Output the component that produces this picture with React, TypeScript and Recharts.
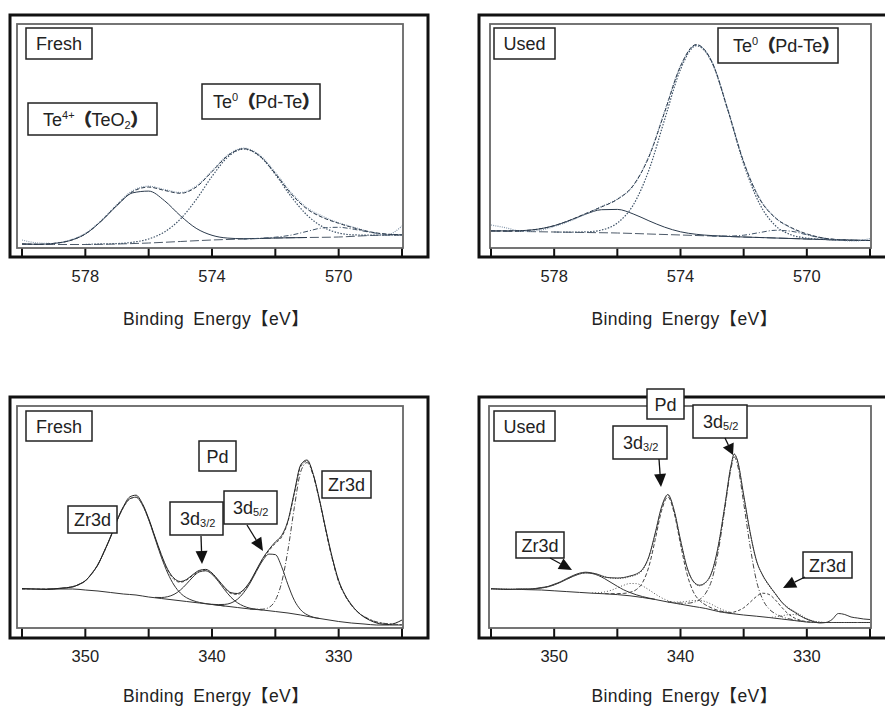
import React from "react";
import { LineChart, Line, XAxis, YAxis } from "recharts";

type Pt = [number, number];

const FONT = '"Liberation Sans", Arial, "Noto Sans CJK SC", sans-serif';
const CJK = '"Noto Sans CJK SC", sans-serif';
const AXIS_TITLE = "Binding\u2002Energy【eV】";

// tick marks and labelled ticks (eV)
const teTicks = [580, 578, 576, 574, 572, 570, 568];
const teLabels = [578, 574, 570];
const pdTicks = [355, 350, 345, 340, 335, 330, 325];
const pdLabels = [350, 340, 330];

// ---- Te 3d, fresh ----
const freshTeBg: Pt[] = [[580, 4], [579, 3.5], [578, 3.5], [577, 4], [576, 5], [575, 6.5], [574, 8], [573, 9], [572, 10], [571, 10.5], [570, 11], [569, 12.5], [568, 13]];
const freshTe4: Pt[] = [[580, 4.0], [579.5, 3.7], [579, 4.6], [578.5, 7.3], [578, 14.0], [577.5, 26.8], [577, 42.5], [576.5, 55.2], [576, 56.9], [575.5, 47.3], [575, 32.3], [574.5, 19.7], [574, 12.7], [573.5, 9.9], [573, 9.3], [572.5, 9.5], [572, 10.0], [571, 10.5]];
const freshTe0: Pt[] = [[578, 3.5], [577.5, 4.1], [577, 4.4], [576.5, 5.8], [576, 9.0], [575.5, 16.1], [575, 28.9], [574.5, 48.4], [574, 71.6], [573.5, 91.0], [573, 99.0], [572.5, 92.0], [572, 73.6], [571.5, 51.4], [571, 32.9], [570.5, 21.1], [570, 15.0], [569.5, 13.1], [569, 12.9], [568.5, 12.9], [568, 13.0]];
const freshTeSmall: Pt[] = [[573, 9.0], [572.5, 9.7], [572, 10.8], [571.5, 12.9], [571, 16.6], [570.5, 20.1], [570, 20.7], [569.5, 18.6], [569, 15.7], [568.5, 13.8], [568, 13.2]];
const freshTeFit: Pt[] = [[580, 4.0], [579.5, 3.7], [579, 4.6], [578.5, 7.3], [578, 14.0], [577.5, 26.9], [577, 42.9], [576.5, 56.5], [576, 60.9], [575.5, 57.6], [575, 54.7], [574.5, 60.9], [574, 76.3], [573.5, 92.4], [573, 99.3], [572.5, 92.2], [572, 74.4], [571.5, 54.1], [571, 39.0], [570.5, 30.4], [570, 24.7], [569.5, 19.9], [569, 16.1], [568.5, 13.9], [568, 13.2]];
const freshTeRaw: Pt[] = [[580, 8.0], [579.5, 5.0], [579, 4.5], [578.5, 7.8], [578, 14.6], [577.5, 27.5], [577, 43.6], [576.5, 57.5], [576, 61.8], [575.5, 58.4], [575, 55.5], [574.5, 61.8], [574, 77.0], [573.5, 93.0], [573, 99.8], [572.5, 93.0], [572, 75.5], [571.5, 55.4], [571, 40.2], [570.5, 31.6], [570, 25.2], [569.5, 20.5], [569, 16.0], [568.5, 13.0], [568, 22.0]];

// ---- Te 3d, used ----
const usedTeBg: Pt[] = [[580, 17], [579, 16.5], [578, 16], [577, 15.5], [576, 15], [575, 14], [574, 13], [573, 12], [572, 11], [571, 10], [570, 9], [569, 8], [568, 7.5]];
const usedTe4: Pt[] = [[580, 17.1], [579.5, 17.1], [579, 17.4], [578.5, 18.9], [578, 22.3], [577.5, 27.7], [577, 33.9], [576.5, 38.3], [576, 38.6], [575.5, 34.1], [575, 27.2], [574.5, 20.8], [574, 16.2], [573.5, 13.7], [573, 12.4], [572.5, 11.6], [572, 11.0], [571, 10.0], [570, 9.0], [569, 8.0], [568, 7.5]];
const usedTe0: Pt[] = [[578, 16], [577.5, 15.9], [577, 16.1], [576.5, 18.0], [576, 25.0], [575.5, 42.8], [575, 77.9], [574.5, 128.7], [574, 178.6], [573.5, 202.3], [573, 185.3], [572.5, 137.7], [572, 84.2], [571.5, 44.4], [571, 22.5], [570.5, 13.2], [570, 9.9], [569.5, 8.7], [569, 8.0], [568.5, 7.7], [568, 7.5]];
const usedTeSmall: Pt[] = [[573, 12.0], [572.5, 11.9], [572, 12.8], [571.5, 15.4], [571, 17.7], [570.5, 16.8], [570, 13.2], [569.5, 9.9], [569, 8.3], [568.5, 7.7], [568, 7.5]];
const usedTeFit: Pt[] = [[580, 17.1], [579.5, 17.1], [579, 17.4], [578.5, 18.9], [578, 22.3], [577.5, 27.8], [577, 34.5], [576.5, 41.1], [576, 48.6], [575.5, 62.4], [575, 91.1], [574.5, 136.0], [574, 181.8], [573.5, 203.5], [573, 185.7], [572.5, 137.9], [572, 86.0], [571.5, 49.3], [571, 30.2], [570.5, 20.5], [570, 14.1], [569.5, 10.1], [569, 8.3], [568.5, 7.7], [568, 7.5]];
const usedTeRaw: Pt[] = [[580, 23.0], [579.5, 20.0], [579, 16.5], [578.5, 17.5], [578, 21.5], [577.5, 27.0], [577, 34.0], [576.5, 41.5], [576, 49.0], [575.5, 62.0], [575, 92.0], [574.5, 137.0], [574, 182.0], [573.5, 203.0], [573, 186.0], [572.5, 138.5], [572, 86.5], [571.5, 50.0], [571, 30.5], [570.5, 20.0], [570, 13.5], [569.5, 10.0], [569, 8.0], [568.5, 7.0], [568, 9.5]];

// ---- Pd 3d / Zr 3d, fresh ----
const freshPdBg: Pt[] = [[355, 39], [354, 39], [353, 39], [352, 39], [351, 39], [350, 38], [349, 37], [348, 35.5], [347, 34], [346, 33], [345, 31], [344, 29.5], [343, 28], [342, 26.5], [341, 25], [340, 23.5], [339, 22], [338, 20.5], [337, 19], [336, 18], [335, 16.5], [334, 15], [333, 13], [332, 10.5], [331, 8.5], [330, 6.5], [329, 5], [328, 4], [327, 3], [326, 3], [325, 3]];
const freshZrHigh: Pt[] = [[353, 39.0], [352, 39.5], [351.5, 40.1], [351, 41.4], [350.5, 43.4], [350, 47.4], [349.5, 54.0], [349, 63.8], [348.5, 76.5], [348, 91.6], [347.5, 107.2], [347, 120.5], [346.5, 129.1], [346, 130.8], [345.5, 123.3], [345, 108.4], [344.5, 89.6], [344, 70.9], [343.5, 55.0], [343, 43.0], [342.5, 35.0], [342, 30.2], [341.5, 27.4], [341, 25.6], [340.5, 24.4], [340, 23.6], [339, 22.0]];
const freshPd32: Pt[] = [[344.5, 30.6], [344, 30.5], [343.5, 31.3], [343, 33.6], [342.5, 37.9], [342, 44.2], [341.5, 51.1], [341, 56.1], [340.5, 57.2], [340, 53.7], [339.5, 46.6], [339, 38.2], [338.5, 30.7], [338, 25.3], [337.5, 21.9], [337, 19.8], [336.5, 18.8], [336, 18.0]];
const freshPd52: Pt[] = [[340, 23.7], [339.5, 23.4], [339, 23.6], [338.5, 25.0], [338, 28.7], [337.5, 35.3], [337, 44.8], [336.5, 56.5], [336, 67.4], [335.5, 73.9], [335, 73.4], [334.5, 61.2], [334, 43.2], [333.5, 27.7], [333, 18.2], [332.5, 13.3], [332, 10.8], [331.5, 9.5]];
const freshZrLow: Pt[] = [[337, 19.0], [336.5, 18.7], [336, 18.8], [335.5, 20.6], [335, 27.7], [334.5, 45.6], [334, 78.2], [333.5, 120.6], [333, 156.2], [332.5, 165.4], [332, 152.3], [331.5, 126.5], [331, 96.5], [330.5, 69.0], [330, 46.4], [329.5, 32.6], [329, 22.8], [328.5, 16.1], [328, 11.5], [327.5, 8.3], [327, 6.0], [326.5, 4.8], [326, 4.0], [325.5, 3.6], [325, 3.3]];
const freshPdFit: Pt[] = [[355, 39], [354, 39], [353, 39], [352.5, 39.2], [352, 39.5], [351.5, 40.1], [351, 41.4], [350.5, 43.4], [350, 47.4], [349.5, 54.0], [349, 63.8], [348.5, 76.5], [348, 91.6], [347.5, 107.2], [347, 120.5], [346.5, 129.1], [346, 130.8], [345.5, 123.3], [345, 108.4], [344.5, 90.0], [344, 71.9], [343.5, 57.5], [343, 48.6], [342.5, 45.7], [342, 47.9], [341.5, 52.7], [341, 56.7], [340.5, 57.5], [340, 54.0], [339.5, 47.2], [339, 39.8], [338.5, 34.5], [338, 33.5], [337.5, 37.4], [337, 45.6], [336.5, 57.0], [336, 68.2], [335.5, 77.3], [335, 84.6], [334.5, 91.0], [334, 106.4], [333.5, 134.3], [333, 161.4], [332.5, 166.9], [332, 152.6], [331.5, 126.5], [331, 96.5], [330.5, 69.0], [330, 46.4], [329.5, 32.6], [329, 22.8], [328.5, 16.1], [328, 11.5], [327.5, 8.3], [327, 6.0], [326.5, 4.8], [326, 4.0], [325.5, 3.6], [325, 3.3]];
const freshPdRaw: Pt[] = [[355, 39.5], [354, 39], [353, 38.5], [352, 39.8], [351, 41], [350.5, 43.8], [350, 47], [349.5, 54.6], [349, 63.2], [348.5, 77.2], [348, 91], [347.5, 107.8], [347, 121.3], [346.5, 131.0], [346, 132.8], [345.5, 124.5], [345, 109.5], [344.5, 91.2], [344, 73.5], [343.5, 58.6], [343, 49.8], [342.5, 46.5], [342, 48.6], [341.5, 53.5], [341, 57.6], [340.5, 58.6], [340, 55.0], [339.5, 48.0], [339, 40.6], [338.5, 35.3], [338, 34.5], [337.5, 38.4], [337, 46.5], [336.5, 58.0], [336, 69.5], [335.5, 78.5], [335, 86.0], [334.5, 92.5], [334, 107.5], [333.5, 135.8], [333, 163.0], [332.5, 168.0], [332, 153.5], [331.5, 127.5], [331, 97.8], [330.5, 70.2], [330, 47.5], [329.5, 33.2], [329, 23.5], [328.5, 16.0], [328, 11.0], [327.5, 7.5], [327, 5.0], [326.5, 3.8], [326, 3.5], [325.5, 5.0], [325, 8.0]];

// ---- Pd 3d / Zr 3d, used ----
const usedPdBg: Pt[] = [[355, 39], [354, 39], [353, 38.7], [352, 38.3], [351, 38], [350, 37.2], [349, 36.4], [348, 35.6], [347, 34.8], [346, 34.2], [345, 33.4], [344, 32.2], [343, 30.5], [342, 28.5], [341, 26], [340, 23.8], [339, 21.6], [338, 19.5], [337, 16.5], [336, 14.5], [335, 13], [334, 11.8], [333, 10.5], [332, 9], [331, 7.5], [330, 6], [329, 5.5], [328, 5.5], [327, 5.5], [326, 5.5], [325, 5.5]];
const usedZrHigh: Pt[] = [[353, 38.8], [352.5, 38.8], [352, 38.8], [351.5, 39.2], [351, 40.0], [350.5, 41.2], [350, 43.1], [349.5, 45.7], [349, 48.8], [348.5, 51.7], [348, 54.0], [347.5, 55.1], [347, 54.5], [346.5, 52.5], [346, 49.3], [345.5, 45.5], [345, 41.7], [344.5, 38.2], [344, 35.5], [343.5, 33.2], [343, 31.4], [342.5, 29.9], [342, 28.7]];
const usedShoulder343: Pt[] = [[347, 35.1], [346.5, 35.3], [346, 36.1], [345.5, 37.7], [345, 40.2], [344.5, 42.7], [344, 44.5], [343.5, 44.4], [343, 42.0], [342.5, 38.2], [342, 34.0], [341.5, 30.2], [341, 27.4], [340.5, 25.4], [340, 24.0]];
const usedPd32: Pt[] = [[346, 34.4], [345.5, 34.3], [345, 34.4], [344.5, 34.6], [344, 35.7], [343.5, 38.4], [343, 45.5], [342.5, 61.5], [342, 88.5], [341.5, 117.2], [341, 131.0], [340.5, 114.9], [340, 83.8], [339.5, 54.7], [339, 36.6], [338.5, 27.6], [338, 23.0], [337.5, 19.8], [337, 17.5], [336.5, 16.0], [336, 14.7]];
const usedShoulder338: Pt[] = [[341, 26.0], [340.5, 25.9], [340, 26.0], [339.5, 26.6], [339, 27.4], [338.5, 27.5], [338, 26.3], [337.5, 23.4], [337, 20.1], [336.5, 17.4], [336, 15.3], [335.5, 14.1]];
const usedPd52: Pt[] = [[341, 26.3], [340.5, 25.4], [340, 24.9], [339.5, 24.8], [339, 25.6], [338.5, 28.3], [338, 34.9], [337.5, 49.0], [337, 77.5], [336.5, 118.5], [336, 159.5], [335.75, 171.1], [335.5, 163.8], [335, 125.0], [334.5, 82.4], [334, 47.8], [333.5, 28.8], [333, 19.2], [332.5, 14.3], [332, 11.4], [331.5, 9.4], [331, 8.1], [330.5, 7.1], [330, 6.0]];
const usedZrLow: Pt[] = [[337, 16.5], [336.5, 15.8], [336, 15.6], [335.5, 17.0], [335, 20.2], [334.5, 25.6], [334, 31.4], [333.5, 34.8], [333, 33.6], [332.5, 28.2], [332, 20.9], [331.5, 14.4], [331, 10.2], [330.5, 7.7], [330, 6.3], [329.5, 5.7]];
const usedShoulder331: Pt[] = [[333, 10.5], [332.5, 11.1], [332, 12.1], [331.5, 13.3], [331, 13.5], [330.5, 11.9], [330, 9.1], [329.5, 7.0], [329, 5.9], [328.5, 5.5]];
const usedPdFit: Pt[] = [[355, 39.0], [354.5, 39.0], [354, 39.0], [353.5, 38.8], [353, 38.8], [352.5, 38.8], [352, 38.8], [351.5, 39.2], [351, 40.0], [350.5, 41.2], [350, 43.1], [349.5, 45.7], [349, 48.8], [348.5, 51.7], [348, 54.0], [347.5, 55.1], [347, 54.8], [346.5, 53.3], [346, 51.4], [345.5, 49.9], [345, 49.5], [344.5, 49.9], [344, 51.3], [343.5, 53.2], [343, 57.9], [342.5, 70.6], [342, 94.2], [341.5, 120.2], [341, 132.7], [340.5, 116.9], [340, 87.3], [339.5, 60.7], [339, 46.4], [338.5, 42.2], [338, 45.2], [337.5, 56.2], [337, 82.1], [336.5, 120.9], [336, 161.6], [335.75, 173.6], [335.5, 167.3], [335, 132.2], [334.5, 95.6], [334, 67.4], [333.5, 52.4], [333, 42.3], [332.5, 34.0], [332, 26.4], [331.5, 20.7], [331, 16.8], [330.5, 13.1], [330, 9.4], [329.5, 7.0], [329, 5.9], [328.5, 5.5], [328, 5.5], [327, 5.5], [326, 5.5], [325, 5.5]];
const usedPdRaw: Pt[] = [[355, 39.5], [354.5, 39], [354, 38.5], [353.5, 38.5], [353, 38.8], [352.5, 39], [352, 39], [351.5, 39.5], [351, 40.5], [350.5, 41.5], [350, 43.8], [349.5, 46.2], [349, 49.5], [348.5, 52.5], [348, 54.8], [347.5, 55.8], [347, 55.0], [346.5, 53.5], [346, 51.0], [345.5, 50.2], [345, 50.0], [344.5, 50.5], [344, 52.0], [343.5, 54.0], [343, 58.8], [342.5, 71.5], [342, 95.0], [341.5, 121.0], [341, 133.5], [340.5, 117.5], [340, 88.0], [339.5, 61.5], [339, 47.0], [338.5, 42.8], [338, 45.8], [337.5, 56.8], [337, 82.8], [336.5, 121.5], [336, 162.5], [335.75, 174.0], [335.5, 168.0], [335, 133.0], [334.5, 96.5], [334, 68.0], [333.5, 53.0], [333, 43.0], [332.5, 34.5], [332, 26.0], [331.5, 20.0], [331, 16.0], [330.5, 12.0], [330, 8.8], [329.5, 6.5], [329, 5.0], [328.5, 5.5], [328, 8.5], [327.5, 14.5], [327, 13.5], [326.5, 11.0], [326, 10.0], [325.5, 9.0], [325, 8.5]];

type Series = { points: Pt[]; stroke: string; width?: number; dash?: string };

const TE_DARK = "#2b3a4c";
const TE_MID = "#3f5368";
const TE_LIGHT = "#8497ab";

const teStyles = (bg: Pt[], te4: Pt[], te0: Pt[], small: Pt[], fit: Pt[], raw: Pt[]): Series[] => [
  { points: bg, stroke: "#4d5a69", dash: "9 3" },
  { points: te4, stroke: TE_DARK },
  { points: te0, stroke: TE_MID, dash: "1.5 1.5", width: 1.2 },
  { points: small, stroke: TE_MID, dash: "5 2 1 2" },
  { points: raw, stroke: TE_LIGHT, dash: "1 1.2", width: 1.2 },
  { points: fit, stroke: TE_DARK, dash: "4 2" },
];

const freshTeSeries = teStyles(freshTeBg, freshTe4, freshTe0, freshTeSmall, freshTeFit, freshTeRaw);
const usedTeSeries = teStyles(usedTeBg, usedTe4, usedTe0, usedTeSmall, usedTeFit, usedTeRaw);

const freshPdSeries: Series[] = [
  { points: freshPdBg, stroke: "#333" },
  { points: freshZrHigh, stroke: "#333" },
  { points: freshPd32, stroke: "#333" },
  { points: freshPd52, stroke: "#333" },
  { points: freshZrLow, stroke: "#444", dash: "5 2 1 2" },
  { points: freshPdFit, stroke: "#555", dash: "3 2" },
  { points: freshPdRaw, stroke: "#222" },
];

const usedPdSeries: Series[] = [
  { points: usedPdBg, stroke: "#333" },
  { points: usedZrHigh, stroke: "#333" },
  { points: usedShoulder343, stroke: "#555", dash: "1 2" },
  { points: usedPd32, stroke: "#444", dash: "4 2" },
  { points: usedShoulder338, stroke: "#555", dash: "1 2" },
  { points: usedPd52, stroke: "#444", dash: "5 2 1 2" },
  { points: usedZrLow, stroke: "#444", dash: "3 2" },
  { points: usedShoulder331, stroke: "#555", dash: "1 2" },
  { points: usedPdFit, stroke: "#555", dash: "1 1.5" },
  { points: usedPdRaw, stroke: "#333" },
];

type PanelProps = {
  left: number;
  top: number;
  width: number;
  height: number;
  margin: { top: number; right: number; bottom: number; left: number };
  domain: [number, number];
  ticks: number[];
  labels: number[];
  yMax: number;
  axisHeight: number;
  tickSize: number;
  tickMargin: number;
  series: Series[];
};

function Panel(p: PanelProps) {
  return (
    <div style={{ position: "absolute", left: p.left, top: p.top }}>
      <LineChart width={p.width} height={p.height} margin={p.margin}>
        <XAxis
          type="number"
          dataKey="x"
          domain={p.domain}
          reversed
          allowDataOverflow
          ticks={p.ticks}
          interval={0}
          tickFormatter={(v: number) => (p.labels.includes(v) ? String(v) : "")}
          axisLine={false}
          tickLine={{ stroke: "#111", strokeWidth: 2 }}
          tickSize={p.tickSize}
          tickMargin={p.tickMargin}
          tick={{ fontSize: 16.5, fill: "#222", fontFamily: FONT }}
          height={p.axisHeight}
          label={{
            value: AXIS_TITLE,
            position: "insideBottom",
            offset: 0,
            fontSize: 17.5,
            letterSpacing: 0.4,
            fill: "#222",
            fontFamily: FONT,
            dx: 4,
          }}
        />
        <YAxis hide type="number" domain={[0, p.yMax]} allowDataOverflow />
        {p.series.map((s, i) => (
          <Line
            key={i}
            data={s.points.map(([x, y]) => ({ x, y }))}
            dataKey="y"
            type="monotone"
            dot={false}
            activeDot={false}
            stroke={s.stroke}
            strokeWidth={s.width ?? 1}
            strokeDasharray={s.dash}
            isAnimationActive={false}
          />
        ))}
      </LineChart>
    </div>
  );
}

function Box({ x, y, w, h }: { x: number; y: number; w: number; h: number }) {
  return <rect x={x} y={y} width={w} height={h} fill="#fff" stroke="#222" strokeWidth={1.5} />;
}

function Arrow({ x1, y1, x2, y2, len = 13 }: { x1: number; y1: number; x2: number; y2: number; len?: number }) {
  const a = Math.atan2(y2 - y1, x2 - x1);
  const bx = x2 - len * Math.cos(a);
  const by = y2 - len * Math.sin(a);
  const px = -Math.sin(a) * 6;
  const py = Math.cos(a) * 6;
  return (
    <g>
      <line x1={x1} y1={y1} x2={bx} y2={by} stroke="#111" strokeWidth={1.3} />
      <polygon points={`${x2},${y2} ${bx + px},${by + py} ${bx - px},${by - py}`} fill="#111" />
    </g>
  );
}

const txt = { fontSize: 18, fontFamily: FONT, fill: "#222" };
const paren = { fontFamily: CJK, fontSize: 17, fontWeight: 700, stroke: "#222", strokeWidth: 0.9 };

function Te0Label({ x, y }: { x: number; y: number }) {
  return (
    <text x={x} y={y} {...txt}>
      <tspan>Te</tspan>
      <tspan fontSize={11} dy={-7}>0</tspan>
      <tspan {...paren} dy={7}>（</tspan>
      <tspan>Pd-Te</tspan>
      <tspan {...paren}>）</tspan>
    </text>
  );
}

function Sub({ x, y, n }: { x: number; y: number; n: string }) {
  return (
    <text x={x} y={y} {...txt}>
      <tspan>3d</tspan>
      <tspan fontSize={11} dy={2}>{n}</tspan>
    </text>
  );
}

function Overlay() {
  return (
    <svg width={885} height={706} style={{ position: "absolute", left: 0, top: 0, pointerEvents: "none" }}>
      {/* frames */}
      <rect x={10} y={15} width={418} height={242} fill="none" stroke="#111" strokeWidth={3} />
      <rect x={17} y={24} width={386} height={224} fill="none" stroke="#666" strokeWidth={1.8} />
      <path d="M 896 15 H 479 V 257 H 896" fill="none" stroke="#111" strokeWidth={3} />
      <rect x={490} y={24} width={381} height={224} fill="none" stroke="#666" strokeWidth={1.8} />
      <rect x={10} y={397} width={418} height={241} fill="none" stroke="#111" strokeWidth={3} />
      <rect x={17} y={406} width={386} height={222} fill="none" stroke="#666" strokeWidth={1.8} />
      <path d="M 896 397 H 479 V 638 H 896" fill="none" stroke="#111" strokeWidth={3} />
      <rect x={489} y={406} width={382} height={222} fill="none" stroke="#666" strokeWidth={1.8} />

      {/* top-left */}
      <Box x={26} y={28} w={66} h={31} />
      <text x={59} y={50} textAnchor="middle" {...txt}>Fresh</text>
      <Box x={28} y={103} w={129} h={32} />
      <text x={43} y={125.5} {...txt}>
        <tspan>Te</tspan>
        <tspan fontSize={11} dy={-7}>4+</tspan>
        <tspan {...paren} dy={7}>（</tspan>
        <tspan>TeO</tspan>
        <tspan fontSize={11} dy={3}>2</tspan>
        <tspan {...paren} dy={-3}>）</tspan>
      </text>
      <Box x={202} y={84} w={118} h={35} />
      <Te0Label x={213} y={108} />

      {/* top-right */}
      <Box x={494} y={28} w={61} h={31} />
      <text x={524.5} y={50} textAnchor="middle" {...txt}>Used</text>
      <Box x={718} y={28} w={120} h={35} />
      <Te0Label x={733} y={52} />

      {/* bottom-left */}
      <Box x={26} y={411} w={66} h={30} />
      <text x={59} y={432.5} textAnchor="middle" {...txt}>Fresh</text>
      <Box x={199} y={441} w={37} h={30} />
      <text x={217.5} y={462.5} textAnchor="middle" {...txt}>Pd</text>
      <Box x={68} y={506} w={49} h={27} />
      <text x={92.5} y={526} textAnchor="middle" {...txt}>Zr3d</text>
      <Box x={170} y={502} w={53} h={33} />
      <Sub x={180} y={525} n="3/2" />
      <Box x={224} y={491} w={53} h={33} />
      <Sub x={233} y={514} n="5/2" />
      <Box x={322} y={471} w={49} h={27} />
      <text x={346.5} y={491} textAnchor="middle" {...txt}>Zr3d</text>
      <Arrow x1={201} y1={536} x2={202} y2={564} />
      <Arrow x1={247} y1={525} x2={263} y2={551} />

      {/* bottom-right */}
      <Box x={494} y={411} w={61} h={30} />
      <text x={524.5} y={432.5} textAnchor="middle" {...txt}>Used</text>
      <Box x={647} y={389} w={37} h={30} />
      <text x={665.5} y={410.5} textAnchor="middle" {...txt}>Pd</text>
      <Box x={613} y={426} w={54} h={33} />
      <Sub x={623} y={449} n="3/2" />
      <Box x={693} y={405} w={54} h={33} />
      <Sub x={703} y={428} n="5/2" />
      <Box x={516} y={532} w={48} h={26} />
      <text x={540} y={551.5} textAnchor="middle" {...txt}>Zr3d</text>
      <Box x={803} y={552} w={49} h={26} />
      <text x={827.5} y={571.5} textAnchor="middle" {...txt}>Zr3d</text>
      <Arrow x1={659} y1={459} x2={661} y2={487} />
      <Arrow x1={725} y1={438} x2={733} y2={455} len={11} />
      <Arrow x1={550} y1={558} x2={572} y2={570} />
      <Arrow x1={805} y1={577} x2={783} y2={588} />
    </svg>
  );
}

export default function App() {
  return (
    <div style={{ position: "absolute", left: 0, top: 0, width: 885, height: 706, background: "#fff", overflow: "hidden" }}>
      <Panel left={0} top={0} width={440} height={345} margin={{ top: 24, right: 38, bottom: 20, left: 22 }}
        domain={[568, 580]} ticks={teTicks} labels={teLabels} yMax={224} axisHeight={77} tickSize={9} tickMargin={13} series={freshTeSeries} />
      <Panel left={440} top={0} width={445} height={345} margin={{ top: 24, right: 15, bottom: 20, left: 51 }}
        domain={[568, 580]} ticks={teTicks} labels={teLabels} yMax={224} axisHeight={77} tickSize={9} tickMargin={13} series={usedTeSeries} />
      <Panel left={0} top={360} width={440} height={346} margin={{ top: 46, right: 38, bottom: 4, left: 22 }}
        domain={[325, 355]} ticks={pdTicks} labels={pdLabels} yMax={222} axisHeight={74} tickSize={10} tickMargin={12} series={freshPdSeries} />
      <Panel left={440} top={360} width={445} height={346} margin={{ top: 46, right: 15, bottom: 4, left: 51 }}
        domain={[325, 355]} ticks={pdTicks} labels={pdLabels} yMax={222} axisHeight={74} tickSize={10} tickMargin={12} series={usedPdSeries} />
      <Overlay />
    </div>
  );
}
